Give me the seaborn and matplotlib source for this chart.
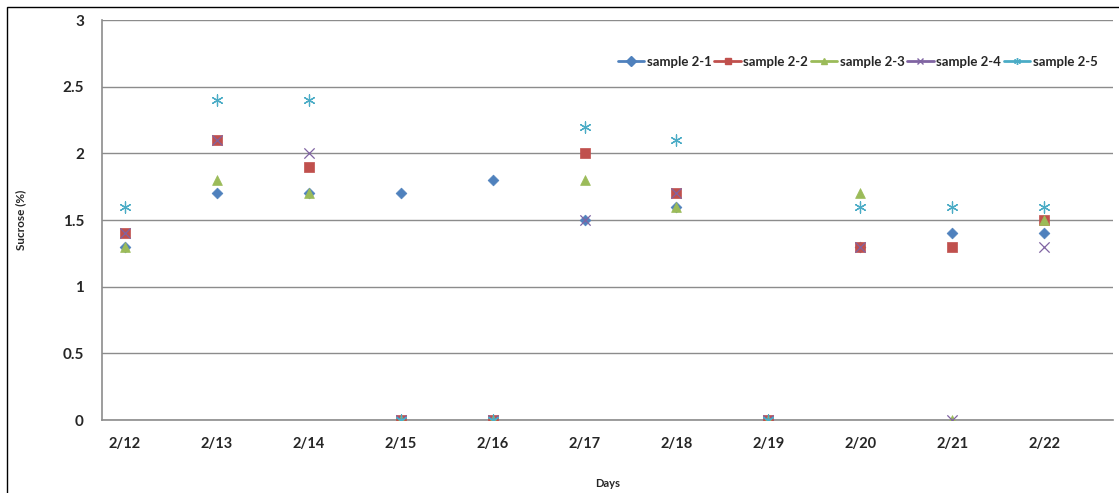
import matplotlib
matplotlib.use("Agg")
import matplotlib.pyplot as plt
import seaborn as sns
import pandas as pd
import numpy as np
from matplotlib.lines import Line2D
from matplotlib.patches import Rectangle

days = ["2/12", "2/13", "2/14", "2/15", "2/16", "2/17", "2/18", "2/19", "2/20", "2/21", "2/22"]
series_names = ["sample 2-1", "sample 2-2", "sample 2-3", "sample 2-4", "sample 2-5"]
s2_1 = [1.3, 1.7, 1.7, 1.7, 1.8, 1.5, 1.6, 0.0, 1.3, 1.4, 1.4]
s2_2 = [1.4, 2.1, 1.9, 0.0, 0.0, 2.0, 1.7, 0.0, 1.3, 1.3, 1.5]
s2_3 = [1.3, 1.8, 1.7, 0.0, 0.0, 1.8, 1.6, 0.0, 1.7, 0.0, 1.5]
s2_4 = [1.4, 2.1, 2.0, 0.0, 0.0, 1.5, 1.7, 0.0, 1.3, 0.0, 1.3]
s2_5 = [1.6, 2.4, 2.4, 0.0, 0.0, 2.2, 2.1, 0.0, 1.6, 1.6, 1.6]
values = [s2_1, s2_2, s2_3, s2_4, s2_5]

colors = ["#4F81BD", "#C0504D", "#9BBB59", "#8064A2", "#4BACC6"]
markers = ["D", "s", "^", "x", (6, 2, 0)]
sizes = [30, 45, 50, 55, 65]

sns.set_theme(style="white")
plt.rcParams['font.family'] = ['Lato', 'DejaVu Sans']

fig = plt.figure(figsize=(11.19, 4.93), dpi=100)
ax = fig.add_axes([102/1119, 1-420/493, 1011/1119, 400/493])

xpos = np.arange(len(days))
for name, vals, c, m, s in zip(series_names, values, colors, markers, sizes):
    df = pd.DataFrame({"x": xpos, "y": vals})
    if m in ("x", (6, 2, 0)):
        sns.scatterplot(data=df, x="x", y="y", ax=ax, marker=m, s=s, color=c,
                        linewidth=0.9, zorder=3)
    else:
        sns.scatterplot(data=df, x="x", y="y", ax=ax, marker=m, s=s, color=c,
                        edgecolor=c, linewidth=0.5, zorder=3)

grid_c = "#8C8C8C"
ax.set_xlim(-0.25, 10.75)
ax.set_ylim(0, 3)
ax.set_yticks(np.arange(0, 3.01, 0.5))
ax.set_yticklabels(["0", "0.5", "1", "1.5", "2", "2.5", "3"])
ax.set_xticks(xpos)
ax.set_xticklabels(days)
ax.set_xticks(np.arange(-0.25, 10.76, 0.5), minor=True)
ax.tick_params(axis="x", which="major", length=0, pad=12, labelsize=10.5)
ax.tick_params(axis="x", which="minor", length=5, width=1, color=grid_c, direction="out")
ax.tick_params(axis="y", which="major", length=5, width=1, color=grid_c, direction="out",
               pad=8, labelsize=11)
for lab in ax.get_xticklabels() + ax.get_yticklabels():
    lab.set_fontweight("bold")
ax.yaxis.grid(True, color=grid_c, linewidth=1)
ax.xaxis.grid(False)
for sp in ["top", "right"]:
    ax.spines[sp].set_visible(False)
for sp in ["left", "bottom"]:
    ax.spines[sp].set_color(grid_c)
    ax.spines[sp].set_linewidth(1.2)

ax.set_xlabel("Days", fontsize=8, fontweight="bold", labelpad=20)
ax.set_ylabel("Sucrose (%)", fontsize=8.5, fontweight="bold", labelpad=26)

handles = []
for name, c, m in zip(series_names, colors, markers):
    handles.append(Line2D([0], [0], color=c, lw=2, marker=m, markersize=5,
                          markeredgewidth=1, label=name))
leg = ax.legend(handles=handles, loc="center right", bbox_to_anchor=(0.99, 0.895),
                ncol=5, frameon=False, handlelength=2.0, handletextpad=0.2,
                columnspacing=0.2, borderaxespad=0,
                prop={"family": "Lato", "weight": "bold", "size": 9.5})

fig.patches.append(Rectangle((7/1119, -0.2), 1.5, 1.2 - 7/493, transform=fig.transFigure,
                             fill=False, edgecolor="black", linewidth=1, zorder=0))

fig.savefig("out.png", dpi=100)
